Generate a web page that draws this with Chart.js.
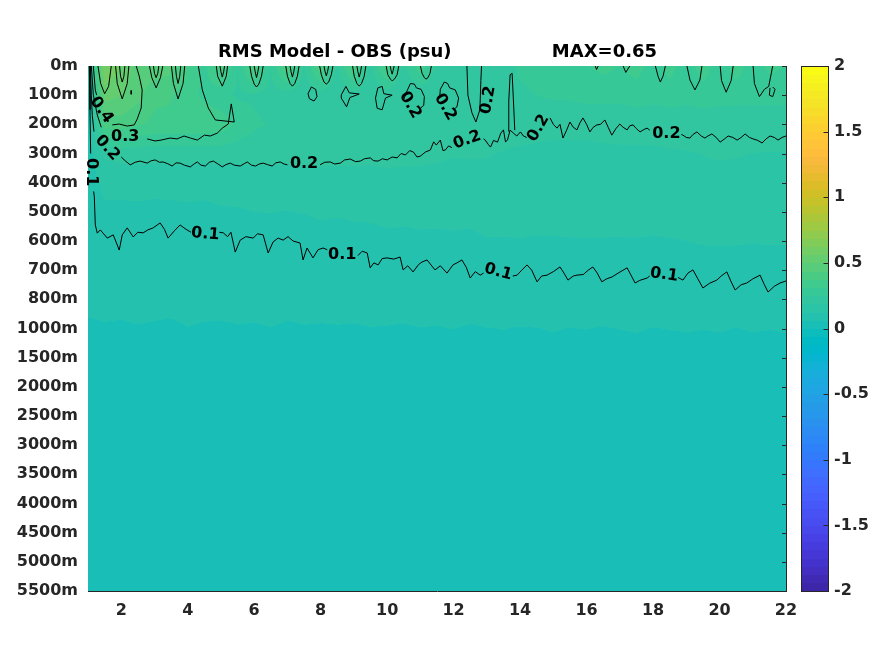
<!DOCTYPE html>
<html><head><meta charset="utf-8">
<script src="https://cdn.jsdelivr.net/npm/chart.js@4.4.1/dist/chart.umd.min.js"></script>
<style>html,body{margin:0;padding:0;background:#fff}</style>
</head><body>
<canvas id="c" width="875" height="656"></canvas>
<script>
// ---------------- DATA ----------------
const titleText = 'RMS Model - OBS (psu)                MAX=0.65';
const depthLabels = ['0m','100m','200m','300m','400m','500m','600m','700m','800m','1000m','1500m','2000m','2500m','3000m','3500m','4000m','4500m','5000m','5500m'];
const xTickValues = [2,4,6,8,10,12,14,16,18,20,22];
const colorbarTicks = [-2,-1.5,-1,-0.5,0,0.5,1,1.5,2];
const xColumns = [1,1.5,2,2.5,3,3.5,4,4.5,5,5.5,6,6.5,7,7.5,8,8.5,9,9.5,10,10.5,11,11.5,12,12.5,13,13.5,14,14.5,15,15.5,16,16.5,17,17.5,18,18.5,19,19.5,20,20.5,21,21.5,22];

const rms_0m   = [0.09,0.63,0.56,0.47,0.48,0.46,0.38,0.29,0.42,0.25,0.44,0.25,0.44,0.24,0.43,0.24,0.42,0.23,0.41,0.23,0.36,0.24,0.25,0.19,0.24,0.2,0.27,0.29,0.31,0.3,0.31,0.33,0.31,0.34,0.28,0.34,0.27,0.35,0.27,0.35,0.27,0.33,0.31];
const rms_100m = [0.09,0.53,0.5,0.46,0.39,0.38,0.34,0.3,0.27,0.24,0.24,0.23,0.22,0.21,0.22,0.2,0.22,0.2,0.21,0.19,0.2,0.19,0.21,0.19,0.21,0.19,0.23,0.25,0.26,0.26,0.27,0.27,0.27,0.28,0.27,0.28,0.27,0.28,0.27,0.27,0.27,0.27,0.27];
const rms_200m = [0.092,0.4,0.41,0.38,0.36,0.36,0.36,0.36,0.35,0.3,0.26,0.245,0.24,0.235,0.235,0.23,0.23,0.23,0.228,0.225,0.22,0.215,0.211,0.212,0.211,0.209,0.207,0.204,0.202,0.202,0.202,0.204,0.205,0.206,0.207,0.208,0.21,0.212,0.215,0.214,0.212,0.211,0.211];
const rms_300m = [0.092,0.2,0.212,0.214,0.211,0.213,0.212,0.21,0.213,0.211,0.214,0.212,0.21,0.213,0.211,0.209,0.207,0.205,0.205,0.203,0.199,0.196,0.19,0.192,0.19,0.185,0.18,0.178,0.175,0.175,0.175,0.178,0.18,0.18,0.18,0.183,0.185,0.188,0.19,0.189,0.187,0.186,0.186];
const rms_400m = [0.093,0.14,0.14,0.141,0.139,0.14,0.142,0.14,0.145,0.146,0.15,0.151,0.149,0.152,0.16,0.158,0.161,0.162,0.17,0.168,0.171,0.17,0.172,0.17,0.175,0.174,0.176,0.172,0.17,0.169,0.17,0.173,0.175,0.176,0.174,0.177,0.178,0.18,0.181,0.18,0.179,0.18,0.18];
const rms_500m = [0.094,0.115,0.115,0.116,0.114,0.115,0.117,0.115,0.12,0.121,0.125,0.126,0.124,0.127,0.132,0.13,0.133,0.134,0.14,0.138,0.141,0.14,0.142,0.14,0.148,0.147,0.149,0.146,0.145,0.146,0.147,0.148,0.149,0.15,0.148,0.15,0.15,0.152,0.153,0.152,0.151,0.152,0.152];
const rms_600m = [0.09,0.095,0.095,0.096,0.094,0.095,0.097,0.095,0.097,0.098,0.1,0.101,0.099,0.102,0.108,0.106,0.109,0.11,0.114,0.112,0.115,0.114,0.116,0.114,0.122,0.121,0.123,0.12,0.121,0.122,0.123,0.122,0.121,0.122,0.12,0.122,0.125,0.128,0.129,0.128,0.127,0.128,0.128];
const rms_700m = [0.08,0.083,0.083,0.084,0.082,0.083,0.085,0.083,0.084,0.085,0.086,0.087,0.085,0.088,0.088,0.087,0.09,0.091,0.095,0.094,0.096,0.095,0.097,0.095,0.102,0.101,0.103,0.1,0.101,0.102,0.101,0.102,0.101,0.102,0.1,0.101,0.105,0.107,0.108,0.107,0.106,0.107,0.107];
const rms_800m = [0.07,0.071,0.071,0.072,0.07,0.071,0.072,0.071,0.072,0.072,0.073,0.074,0.072,0.073,0.074,0.073,0.075,0.074,0.076,0.075,0.077,0.076,0.076,0.075,0.082,0.081,0.083,0.082,0.08,0.082,0.083,0.081,0.082,0.083,0.082,0.081,0.085,0.088,0.089,0.088,0.087,0.088,0.088];
const rms_1000m = [0.058,0.06,0.059,0.061,0.06,0.058,0.062,0.06,0.059,0.061,0.06,0.062,0.059,0.061,0.06,0.061,0.06,0.062,0.061,0.06,0.062,0.061,0.063,0.06,0.062,0.063,0.061,0.062,0.064,0.062,0.063,0.061,0.063,0.064,0.062,0.063,0.064,0.063,0.064,0.062,0.064,0.063,0.064];
const rms_1500m = [0.051,0.052,0.053,0.051,0.052,0.054,0.052,0.051,0.053,0.052,0.052,0.051,0.053,0.052,0.054,0.052,0.051,0.052,0.053,0.052,0.051,0.053,0.052,0.052,0.053,0.052,0.054,0.052,0.053,0.052,0.051,0.053,0.052,0.054,0.053,0.052,0.053,0.052,0.054,0.053,0.052,0.053,0.053];
const rms_2000m = [0.048,0.048,0.049,0.047,0.048,0.048,0.049,0.048,0.047,0.048,0.049,0.048,0.048,0.047,0.048,0.049,0.048,0.048,0.047,0.048,0.049,0.048,0.048,0.049,0.048,0.047,0.048,0.048,0.049,0.048,0.048,0.047,0.048,0.049,0.048,0.048,0.049,0.048,0.048,0.047,0.048,0.049,0.048];
const rms_2500m = [0.046,0.046,0.047,0.046,0.045,0.046,0.046,0.047,0.046,0.046,0.045,0.046,0.047,0.046,0.046,0.045,0.046,0.046,0.047,0.046,0.046,0.045,0.046,0.047,0.046,0.046,0.045,0.046,0.046,0.047,0.046,0.046,0.045,0.046,0.047,0.046,0.046,0.045,0.046,0.046,0.047,0.046,0.046];
const rms_3000m = [0.045,0.045,0.045,0.046,0.045,0.044,0.045,0.045,0.046,0.045,0.045,0.044,0.045,0.045,0.046,0.045,0.045,0.044,0.045,0.045,0.046,0.045,0.045,0.044,0.045,0.045,0.046,0.045,0.045,0.044,0.045,0.045,0.046,0.045,0.045,0.044,0.045,0.045,0.046,0.045,0.045,0.044,0.045];
const rms_3500m = [0.044,0.044,0.045,0.044,0.044,0.043,0.044,0.044,0.045,0.044,0.044,0.043,0.044,0.044,0.045,0.044,0.044,0.043,0.044,0.044,0.045,0.044,0.044,0.043,0.044,0.044,0.045,0.044,0.044,0.043,0.044,0.044,0.045,0.044,0.044,0.043,0.044,0.044,0.045,0.044,0.044,0.043,0.044];
const rms_4000m = [0.044,0.043,0.044,0.044,0.043,0.044,0.044,0.043,0.044,0.044,0.043,0.044,0.044,0.043,0.044,0.044,0.043,0.044,0.044,0.043,0.044,0.044,0.043,0.044,0.044,0.043,0.044,0.044,0.043,0.044,0.044,0.043,0.044,0.044,0.043,0.044,0.044,0.043,0.044,0.044,0.043,0.044,0.044];
const rms_4500m = [0.043,0.043,0.044,0.043,0.043,0.042,0.043,0.043,0.044,0.043,0.043,0.042,0.043,0.043,0.044,0.043,0.043,0.042,0.043,0.043,0.044,0.043,0.043,0.042,0.043,0.043,0.044,0.043,0.043,0.042,0.043,0.043,0.044,0.043,0.043,0.042,0.043,0.043,0.044,0.043,0.043,0.042,0.043];
const rms_5000m = [0.043,0.042,0.043,0.043,0.042,0.043,0.043,0.042,0.043,0.043,0.042,0.043,0.043,0.042,0.043,0.043,0.042,0.043,0.043,0.042,0.043,0.043,0.042,0.043,0.043,0.042,0.043,0.043,0.042,0.043,0.043,0.042,0.043,0.043,0.042,0.043,0.043,0.042,0.043,0.043,0.042,0.043,0.043];
const rms_5500m = [0.042,0.042,0.043,0.042,0.042,0.041,0.042,0.042,0.043,0.042,0.042,0.041,0.042,0.042,0.043,0.042,0.042,0.041,0.042,0.042,0.043,0.042,0.042,0.041,0.042,0.042,0.043,0.042,0.042,0.041,0.042,0.042,0.043,0.042,0.042,0.041,0.042,0.042,0.043,0.042,0.042,0.041,0.042];
const rmsRows = [rms_0m,rms_100m,rms_200m,rms_300m,rms_400m,rms_500m,rms_600m,rms_700m,rms_800m,rms_1000m,rms_1500m,rms_2000m,rms_2500m,rms_3000m,rms_3500m,rms_4000m,rms_4500m,rms_5000m,rms_5500m];

// contour polylines, [x, depth-index] pairs
const contour01 = [
 [[1.04,0],[1.06,1.5],[1.08,3.0]],
 [[1.17,4.3],[1.19,4.49],[1.22,5.45],[1.28,5.73],[1.37,5.62],[1.58,5.9],[1.76,5.79],[1.94,6.31],[2.03,5.79],[2.18,5.55],[2.36,5.86],[2.5,5.7],[2.66,5.72],[2.8,5.62],[2.96,5.55],[3.17,5.38],[3.3,5.6],[3.41,5.9],[3.6,5.65],[3.77,5.45],[3.95,5.6],[4.1,5.7]],
 [[4.95,5.7],[5.07,5.72],[5.2,5.85],[5.3,5.7],[5.43,6.38],[5.58,5.97],[5.75,5.85],[5.97,5.9],[6.1,5.75],[6.27,5.79],[6.42,6.41],[6.57,6.03],[6.72,5.9],[6.87,5.97],[7.02,5.85],[7.17,6.0],[7.38,6.07],[7.47,6.65],[7.59,6.24],[7.77,6.58],[7.92,6.3],[8.07,6.24],[8.2,6.3]],
 [[9.12,6.5],[9.25,6.35],[9.4,6.41],[9.49,6.92],[9.6,6.75],[9.73,6.82],[9.85,6.6],[10.0,6.58],[10.2,6.62],[10.39,6.55],[10.48,6.99],[10.62,6.85],[10.78,7.06],[10.95,6.8],[11.05,6.72],[11.2,6.65],[11.44,6.99],[11.6,6.85],[11.8,7.1],[11.98,6.82],[12.1,6.75],[12.25,6.65],[12.38,6.9],[12.5,7.27],[12.65,7.05],[12.8,7.17],[12.9,7.1]],
 [[13.78,7.2],[13.91,7.17],[14.05,7.0],[14.21,6.82],[14.35,7.0],[14.51,7.4],[14.65,7.2],[14.81,7.17],[15.0,7.05],[15.2,6.89],[15.32,7.1],[15.44,7.34],[15.6,7.2],[15.71,7.17],[15.9,7.15],[16.05,7.0],[16.19,6.89],[16.32,7.1],[16.46,7.4],[16.6,7.3],[16.77,7.23],[16.95,7.1],[17.1,7.0],[17.22,6.92],[17.35,7.2],[17.46,7.44],[17.6,7.35],[17.82,7.27],[17.9,7.2]],
 [[18.75,7.25],[18.9,7.34],[19.05,7.1],[19.2,6.99],[19.35,7.3],[19.5,7.61],[19.7,7.45],[19.92,7.34],[20.05,7.2],[20.22,7.06],[20.35,7.4],[20.47,7.68],[20.65,7.5],[20.82,7.44],[21.0,7.3],[21.22,7.17],[21.35,7.5],[21.46,7.75],[21.65,7.55],[21.82,7.44],[22,7.37]]
];
const contour02 = [
 [[1.07,0],[1.1,1.0],[1.13,1.7],[1.18,2.25]],
 [[2.0,3.12],[2.12,3.25],[2.27,3.39],[2.42,3.3],[2.57,3.26],[2.78,3.33],[2.9,3.25],[3.02,3.22],[3.15,3.3],[3.26,3.29],[3.4,3.35],[3.53,3.43],[3.65,3.32],[3.77,3.33],[3.9,3.4],[4.08,3.46],[4.2,3.35],[4.29,3.29],[4.4,3.4],[4.53,3.43],[4.65,3.3],[4.77,3.26],[4.9,3.35],[5.04,3.46],[5.15,3.38],[5.28,3.33],[5.4,3.4],[5.58,3.43],[5.7,3.35],[5.79,3.29],[5.92,3.4],[6.04,3.43],[6.15,3.36],[6.27,3.33],[6.4,3.38],[6.54,3.43],[6.65,3.32],[6.78,3.29],[6.9,3.36],[7.0,3.39]],
 [[7.98,3.39],[8.12,3.3],[8.29,3.29],[8.42,3.36],[8.59,3.33],[8.72,3.22],[8.89,3.19],[9.05,3.28],[9.19,3.26],[9.32,3.18],[9.49,3.15],[9.6,3.25],[9.73,3.26],[9.86,3.18],[10.0,3.22],[10.15,3.12],[10.3,3.15],[10.42,3.0],[10.55,3.05],[10.68,2.9],[10.79,2.95],[10.9,3.12],[11.0,3.09],[11.15,2.95],[11.3,2.88],[11.4,2.6],[11.48,2.71],[11.6,2.54],[11.68,2.9],[11.75,2.88],[11.85,2.74],[11.95,2.8]],
 [[12.9,2.5],[12.95,2.54],[13.05,2.7],[13.11,2.78],[13.2,2.55],[13.32,2.61],[13.42,2.3],[13.5,2.19],[13.56,2.6],[13.62,2.54],[13.7,2.2],[13.8,2.3],[13.9,2.4],[14.01,2.26],[14.1,2.4],[14.2,2.45]],
 [[14.9,1.78],[15.0,2.0],[15.11,2.13],[15.2,2.0],[15.29,2.47],[15.4,2.2],[15.5,1.92],[15.6,2.1],[15.71,2.19],[15.8,1.95],[15.89,1.78],[16.0,2.0],[16.1,2.26],[16.2,2.1],[16.31,2.02],[16.42,2.0],[16.55,1.85],[16.65,2.1],[16.76,2.37],[16.88,2.15],[17.0,1.99],[17.1,2.1],[17.22,2.19],[17.3,2.05],[17.4,2.02],[17.5,2.15],[17.61,2.26],[17.72,2.18],[17.82,2.13],[17.9,2.2]],
 [[18.85,2.35],[18.9,2.37],[19.0,2.45],[19.11,2.47],[19.2,2.35],[19.32,2.26],[19.45,2.4],[19.56,2.47],[19.65,2.4],[19.77,2.33],[19.9,2.45],[20.02,2.61],[20.15,2.5],[20.26,2.4],[20.4,2.45],[20.53,2.54],[20.65,2.45],[20.77,2.33],[20.9,2.45],[21.01,2.5],[21.15,2.55],[21.28,2.64],[21.4,2.5],[21.52,2.4],[21.65,2.45],[21.76,2.54],[21.88,2.45],[22,2.4]],
 [[13.66,2.25],[13.66,1.2],[13.7,0.3],[13.76,0.25],[13.8,1.2],[13.84,2.2]],
 [[12.4,0],[12.43,1.0],[12.55,1.6],[12.67,1.92],[12.79,1.5],[12.82,0.5],[12.84,0]],
 [[7.62,0.95],[7.72,0.72],[7.85,0.8],[7.89,1.05],[7.8,1.2],[7.66,1.12],[7.62,0.95]],
 [[8.62,0.99],[8.76,0.7],[8.86,0.92],[9.16,0.96],[8.88,1.08],[8.78,1.4],[8.62,1.1],[8.62,0.99]],
 [[9.65,1.1],[9.72,0.75],[9.85,0.7],[9.9,0.95],[10.15,1.0],[9.95,1.1],[9.85,1.5],[9.7,1.45],[9.65,1.1]],
 [[10.5,1.15],[10.58,0.9],[10.7,0.6],[10.82,0.62],[10.88,0.75],[11.02,0.8],[11.12,1.05],[11.1,1.35],[11.0,1.45]],
 [[11.58,1.1],[11.6,0.8],[11.72,0.55],[11.82,0.6],[11.88,0.75],[12.05,0.82],[12.15,1.1],[12.1,1.4],[12.0,1.5]]
];
const contour03 = [
 [[1.1,0],[1.16,0.99],[1.28,1.68],[1.4,2.1]],
 [[2.78,2.5],[3.02,2.57],[3.2,2.54],[3.47,2.47],[3.68,2.5],[3.89,2.4],[4.08,2.47],[4.29,2.54],[4.5,2.37],[4.68,2.4],[4.89,2.3],[5.04,2.13],[5.22,1.99],[5.31,1.3],[5.4,1.92],[4.83,1.85],[4.62,1.44],[4.44,0.82],[4.32,0]],
 [[1.83,0],[1.88,0.6],[2.03,1.13],[2.18,0.6],[2.23,0]],
 [[2.85,0],[2.92,0.4],[3.05,0.75],[3.18,0.4],[3.25,0]],
 [[3.51,0],[3.57,0.6],[3.71,1.13],[3.86,0.6],[3.91,0]],
 [[4.86,0],[4.9,0.35],[5.04,0.69],[5.16,0.35],[5.2,0]],
 [[5.87,0],[5.92,0.35],[6.0,0.62],[6.07,0.72],[6.14,0.62],[6.22,0.35],[6.27,0]],
 [[6.95,0],[7.0,0.35],[7.08,0.6],[7.15,0.69],[7.22,0.6],[7.3,0.35],[7.35,0]],
 [[7.97,0],[8.02,0.3],[8.1,0.55],[8.17,0.62],[8.24,0.55],[8.32,0.3],[8.37,0]],
 [[8.96,0],[9.01,0.35],[9.09,0.6],[9.16,0.69],[9.23,0.6],[9.31,0.35],[9.36,0]],
 [[9.97,0],[10.02,0.3],[10.1,0.45],[10.15,0.51],[10.22,0.45],[10.3,0.3],[10.35,0]],
 [[11.0,0],[11.05,0.25],[11.12,0.4],[11.17,0.45],[11.23,0.4],[11.29,0.25],[11.33,0]],
 [[16.26,0],[16.3,0.12],[16.35,0]],
 [[17.1,0],[17.18,0.22],[17.3,0]],
 [[18.07,0],[18.15,0.35],[18.22,0.55],[18.3,0.35],[18.37,0]],
 [[19.02,0],[19.11,0.48],[19.26,0.82],[19.41,0.48],[19.47,0]],
 [[20.02,0],[20.06,0.5],[20.2,0.9],[20.35,0.5],[20.41,0]],
 [[21.01,0],[21.05,0.6],[21.2,1.05],[21.35,0.8],[21.48,0.7],[21.6,0]],
 [[21.52,0.75],[21.5,1.0],[21.6,1.05],[21.67,0.8],[21.6,0.72]]
];
const contour04 = [
 [[1.16,0],[1.22,0.82],[1.26,1.0]],
 [[1.73,2.02],[1.94,1.99],[2.18,2.06],[2.39,2.02],[2.48,1.82],[2.6,1.44],[2.63,0.82],[2.54,0.34],[2.45,0]],
 [[1.95,0],[1.98,0.35],[2.03,0.55],[2.08,0.35],[2.11,0]],
 [[2.97,0],[3.0,0.25],[3.05,0.4],[3.1,0.25],[3.13,0]],
 [[3.63,0],[3.66,0.35],[3.71,0.6],[3.76,0.35],[3.79,0]],
 [[4.97,0],[5.0,0.2],[5.04,0.38],[5.08,0.2],[5.11,0]],
 [[6.0,0],[6.03,0.2],[6.07,0.4],[6.11,0.2],[6.14,0]],
 [[7.08,0],[7.11,0.2],[7.15,0.38],[7.19,0.2],[7.22,0]],
 [[8.1,0],[8.13,0.18],[8.17,0.34],[8.21,0.18],[8.24,0]],
 [[9.09,0],[9.12,0.2],[9.16,0.38],[9.2,0.2],[9.23,0]],
 [[10.09,0],[10.12,0.15],[10.15,0.28],[10.18,0.15],[10.21,0]]
];
const contour05 = [
 [[1.3,0],[1.38,0.6],[1.5,0.95],[1.62,0.7],[1.7,0]],
 [[2.3,0.84],[2.3,0.97]]
];
const contourLabelTexts = ['0.1','0.1','0.1','0.1','0.1','0.2','0.2','0.2','0.2','0.2','0.2','0.2','0.2','0.3','0.4'];
const contourLabelX     = [1.1, 4.53, 8.65, 13.34, 18.33, 1.58, 7.5, 12.41, 14.55, 18.4, 10.69, 11.75, 13.04, 2.12, 1.4];
const contourLabelY     = [3.64, 5.76, 6.48, 7.06, 7.16, 2.81, 3.36, 2.54, 2.13, 2.33, 1.34, 1.41, 1.17, 2.43, 1.51];
const contourLabelRot   = [90, 5, 0, 15, 8, 48, 0, -20, -60, 0, 60, 60, -80, 0, 55];

// ---------------- STYLE ----------------
const PARULA = [[0.2422,0.1504,0.6603],[0.2504,0.1650,0.7076],[0.2578,0.1818,0.7511],[0.2647,0.1978,0.7952],[0.2706,0.2147,0.8364],[0.2751,0.2342,0.8710],[0.2783,0.2559,0.8991],[0.2803,0.2782,0.9221],[0.2813,0.3006,0.9414],[0.2810,0.3228,0.9579],[0.2795,0.3447,0.9717],[0.2760,0.3667,0.9829],[0.2699,0.3892,0.9906],[0.2602,0.4123,0.9952],[0.2440,0.4358,0.9988],[0.2206,0.4603,0.9973],[0.1963,0.4847,0.9892],[0.1834,0.5074,0.9798],[0.1786,0.5289,0.9682],[0.1764,0.5499,0.9520],[0.1687,0.5703,0.9359],[0.1540,0.5902,0.9218],[0.1460,0.6091,0.9079],[0.1380,0.6276,0.8973],[0.1248,0.6459,0.8883],[0.1113,0.6635,0.8763],[0.0952,0.6798,0.8598],[0.0689,0.6948,0.8394],[0.0297,0.7082,0.8163],[0.0036,0.7203,0.7917],[0.0067,0.7312,0.7660],[0.0433,0.7411,0.7394],[0.0964,0.7500,0.7120],[0.1408,0.7584,0.6842],[0.1717,0.7670,0.6554],[0.1938,0.7758,0.6251],[0.2161,0.7843,0.5923],[0.2470,0.7918,0.5567],[0.2906,0.7973,0.5188],[0.3406,0.8008,0.4789],[0.3909,0.8029,0.4354],[0.4456,0.8024,0.3909],[0.5044,0.7993,0.3480],[0.5616,0.7942,0.3045],[0.6174,0.7876,0.2612],[0.6720,0.7793,0.2227],[0.7242,0.7698,0.1910],[0.7738,0.7598,0.1646],[0.8203,0.7498,0.1535],[0.8634,0.7406,0.1596],[0.9035,0.7330,0.1774],[0.9393,0.7288,0.2100],[0.9728,0.7298,0.2394],[0.9956,0.7434,0.2371],[0.9970,0.7659,0.2199],[0.9952,0.7893,0.2028],[0.9892,0.8136,0.1885],[0.9786,0.8386,0.1766],[0.9676,0.8639,0.1643],[0.9610,0.8890,0.1537],[0.9597,0.9135,0.1423],[0.9628,0.9373,0.1265],[0.9691,0.9606,0.1064],[0.9769,0.9839,0.0805]].map(c=>c.map(v=>Math.round(v*255)));
const FONT = 'DejaVu Sans';
const AXIS_COLOR = '#262626';
const cbMin = colorbarTicks[0], cbMax = colorbarTicks[colorbarTicks.length-1];

function clamp(v,a,b){return Math.max(a,Math.min(b,v));}
function colorIndex(v){return clamp(Math.floor((v-cbMin)/(cbMax-cbMin)*PARULA.length),0,PARULA.length-1);}
function sampleField(xv,yv){
  let c=0; while(c<xColumns.length-2 && xv>xColumns[c+1]) c++;
  const fx=clamp((xv-xColumns[c])/(xColumns[c+1]-xColumns[c]),0,1);
  const r=clamp(Math.floor(yv),0,rmsRows.length-2); const fy=clamp(yv-r,0,1);
  const a=rmsRows[r][c], b=rmsRows[r][c+1], d=rmsRows[r+1][c], e=rmsRows[r+1][c+1];
  return a*(1-fx)*(1-fy)+b*fx*(1-fy)+d*(1-fx)*fy+e*fx*fy;
}

const fieldPlugin = {
  id:'field',
  beforeDatasetsDraw(chart){
    const {ctx, chartArea:a, scales:{x,y}} = chart;
    const L=Math.round(a.left), T=Math.round(a.top);
    const w=Math.round(a.right)-L, h=Math.round(a.bottom)-T;
    const off=document.createElement('canvas'); off.width=w; off.height=h;
    const octx=off.getContext('2d'); const img=octx.createImageData(w,h);
    const xv=[]; for(let i=0;i<w;i++) xv.push(x.getValueForPixel(L+i+0.5));
    for(let j=0;j<h;j++){
      const yv=y.getValueForPixel(T+j+0.5);
      for(let i=0;i<w;i++){
        const col=PARULA[colorIndex(sampleField(xv[i],yv))];
        const p=(j*w+i)*4; img.data[p]=col[0]; img.data[p+1]=col[1]; img.data[p+2]=col[2]; img.data[p+3]=255;
      }
    }
    octx.putImageData(img,0,0);
    ctx.drawImage(off,L,T);
  },
  afterDatasetsDraw(chart){
    const {ctx, scales:{x,y}} = chart;
    ctx.save();
    ctx.fillStyle='#000';
    ctx.font='bold 16px "'+FONT+'"';
    ctx.textAlign='center'; ctx.textBaseline='middle';
    for(let k=0;k<contourLabelTexts.length;k++){
      ctx.save();
      ctx.translate(x.getPixelForValue(contourLabelX[k]), y.getPixelForValue(contourLabelY[k]));
      ctx.rotate(contourLabelRot[k]*Math.PI/180);
      ctx.fillText(contourLabelTexts[k],0,0);
      ctx.restore();
    }
    ctx.restore();
  },
  afterDraw(chart){
    const {ctx, chartArea:a, scales:{y,cb}} = chart;
    ctx.save();
    ctx.strokeStyle=AXIS_COLOR; ctx.lineWidth=1;
    ctx.beginPath();
    ctx.moveTo(a.left, Math.round(a.bottom)+0.5); ctx.lineTo(a.right+1, Math.round(a.bottom)+0.5);
    ctx.moveTo(Math.round(a.right)+0.5, a.top); ctx.lineTo(Math.round(a.right)+0.5, a.bottom+1);
    for(let i=0;i<depthLabels.length;i++){
      const py=Math.round(y.getPixelForValue(i))+0.5;
      ctx.moveTo(Math.round(a.right)+0.5, py); ctx.lineTo(Math.round(a.right)-4, py);
    }
    ctx.stroke();
    const bx=Math.round(a.right)+15, bw=27;
    const n=PARULA.length;
    for(let k=0;k<n;k++){
      const v0=cbMin+(cbMax-cbMin)*k/n, v1=cbMin+(cbMax-cbMin)*(k+1)/n;
      const y0=cb.getPixelForValue(v0), y1=cb.getPixelForValue(v1);
      const c=PARULA[k];
      ctx.fillStyle='rgb('+c[0]+','+c[1]+','+c[2]+')';
      ctx.fillRect(bx, Math.floor(y1), bw, Math.ceil(y0)-Math.floor(y1));
    }
    ctx.strokeStyle=AXIS_COLOR;
    ctx.strokeRect(bx+0.5, Math.round(a.top)+0.5, bw, Math.round(a.bottom)-Math.round(a.top));
    ctx.beginPath();
    for(const t of colorbarTicks){
      const py=Math.round(cb.getPixelForValue(t))+0.5;
      ctx.moveTo(bx+bw+0.5, py); ctx.lineTo(bx+bw-4.5, py);
    }
    ctx.stroke();
    ctx.restore();
  }
};

const contourSets = [];
for (const segs of [contour01, contour02, contour03, contour04, contour05]) {
  for (const seg of segs) {
    contourSets.push({
      data: seg.map(p=>({x:p[0], y:p[1]})),
      showLine:true, borderColor:'#000', borderWidth:1, pointRadius:0, pointHoverRadius:0, fill:false, tension:0
    });
  }
}

const tickFont = {family:FONT, size:16, weight:'bold'};
new Chart(document.getElementById('c').getContext('2d'), {
  type:'scatter',
  data:{datasets:contourSets},
  options:{
    responsive:false, animation:false, devicePixelRatio:1,
    layout:{padding:0},
    events:[],
    plugins:{
      legend:{display:false}, tooltip:{enabled:false},
      title:{display:true, text:titleText, color:'#000', font:{family:FONT, size:18, weight:'bold'}, padding:{top:42,bottom:2.4}}
    },
    scales:{
      x:{type:'linear', min:1, max:22, grid:{display:false, drawTicks:false}, border:{display:false},
         afterBuildTicks:s=>{s.ticks=xTickValues.map(v=>({value:v}));},
         ticks:{font:tickFont, color:AXIS_COLOR, padding:10, maxRotation:0, autoSkip:false, callback:v=>String(v)},
         afterFit:s=>{s.height=65;}},
      y:{type:'linear', min:0, max:18, reverse:true, grid:{display:false, drawTicks:false}, border:{display:false},
         afterBuildTicks:s=>{s.ticks=depthLabels.map((l,i)=>({value:i}));},
         ticks:{font:tickFont, color:AXIS_COLOR, padding:10, autoSkip:false, callback:v=>depthLabels[v]},
         afterFit:s=>{s.width=88;}},
      cb:{axis:'y', type:'linear', position:'right', min:cbMin, max:cbMax, grid:{display:false, drawTicks:false}, border:{display:false},
         afterBuildTicks:s=>{s.ticks=colorbarTicks.map(v=>({value:v}));},
         ticks:{font:tickFont, color:AXIS_COLOR, padding:48, autoSkip:false, callback:v=>String(v)},
         afterFit:s=>{s.width=89;}}
    }
  },
  plugins:[fieldPlugin]
});
</script>
</body></html>
